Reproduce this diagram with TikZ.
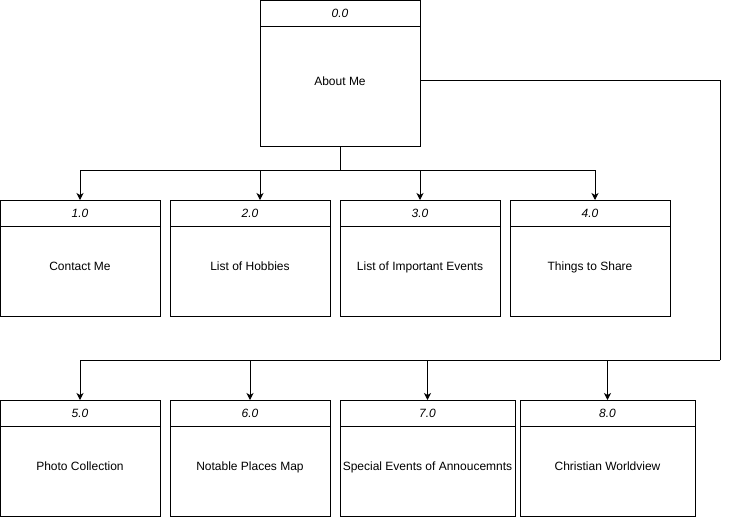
\documentclass[tikz,border=0pt]{standalone}
\usepackage{fontspec}
\setmainfont{Liberation Sans}
\usetikzlibrary{positioning,arrows.meta}

\begin{document}
\begin{tikzpicture}[x=1pt,y=-1pt,
    headbox/.style={draw,line width=1pt,inner sep=0pt,outer sep=0pt,minimum height=26pt,
      font=\fontsize{12}{14}\selectfont\itshape},
    bodybox/.style={draw,line width=1pt,inner sep=0pt,outer sep=0pt,minimum height=90pt,
      text height=8.6pt,text depth=10pt,font=\fontsize{12}{14}\selectfont},
    link/.style={line width=1pt,-{Stealth[length=7pt,width=7pt,inset=2pt]}}]
  \useasboundingbox (0,0) rectangle (729,517);
  \node[headbox,minimum width=160pt] (h0) at (340,13) {0.0};
  \node[bodybox,minimum width=160pt,minimum height=120pt,below=0pt of h0] (b0) {About Me};
  \foreach \i/\x/\y/\w/\t in {1/80/213/160pt/Contact Me,2/250/213/160pt/List of Hobbies,
      3/420/213/160pt/List of Important Events,4/590/213/160pt/Things to Share,
      5/80/413/160pt/Photo Collection,6/250/413/160pt/Notable Places Map,
      7/427.5/413/175pt/Special Events of Annoucemnts,8/607.5/413/175pt/Christian Worldview}{
    \node[headbox,minimum width=\w] (h\i) at (\x,\y) {\i.0};
    \node[bodybox,minimum width=\w,below=0pt of h\i] (b\i) {\t};
  }
  \coordinate (bus1) at (340,170);
  \coordinate (bus2) at (720,360);
  \draw[line width=1pt] (b0.south) -- (bus1);
  \draw[link] (bus1) -| (h1.north);
  \draw[link] (bus1) -| ([xshift=10pt]h2.north);
  \draw[link] (bus1) -| (h3.north);
  \draw[link] (bus1) -| ([xshift=5pt]h4.north);
  \draw[line width=1pt] ([yshift=6pt]b0.east) -| (bus2);
  \foreach \i in {5,...,8}
    \draw[link] (bus2) -| (h\i.north);
\end{tikzpicture}
\end{document}
